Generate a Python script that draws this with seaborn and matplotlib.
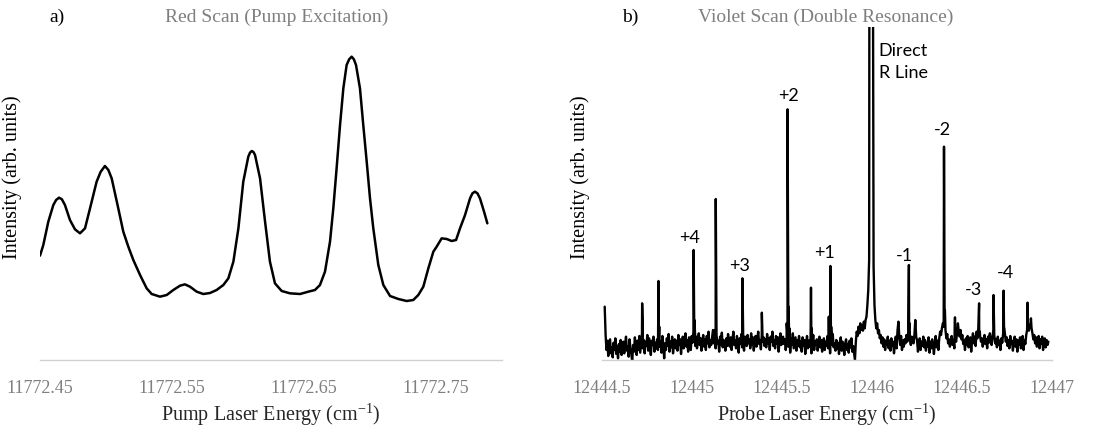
import numpy as np
import matplotlib
matplotlib.use("Agg")
import matplotlib.pyplot as plt
import seaborn as sns

# ---------------- data: panel a (red scan) ----------------
red_energy = [
    11772.4500, 11772.4525, 11772.4563, 11772.4601, 11772.4622, 11772.4644, 11772.4666,
    11772.4689, 11772.4727, 11772.4765, 11772.4803, 11772.4841, 11772.4879, 11772.4929,
    11772.4960, 11772.4992, 11772.5018, 11772.5043, 11772.5093, 11772.5131, 11772.5169,
    11772.5207, 11772.5258, 11772.5308, 11772.5346, 11772.5409, 11772.5460, 11772.5510,
    11772.5561, 11772.5598, 11772.5636, 11772.5687, 11772.5737, 11772.5788, 11772.5838,
    11772.5889, 11772.5927, 11772.5965, 11772.6003, 11772.6040, 11772.6078, 11772.6091,
    11772.6104, 11772.6117, 11772.6129, 11772.6167, 11772.6205, 11772.6242, 11772.6280,
    11772.6331, 11772.6394, 11772.6470, 11772.6533, 11772.6583, 11772.6621, 11772.6659,
    11772.6697, 11772.6722, 11772.6747, 11772.6773, 11772.6798, 11772.6823, 11772.6842,
    11772.6861, 11772.6878, 11772.6894, 11772.6924, 11772.6949, 11772.6975, 11772.7000,
    11772.7025, 11772.7063, 11772.7101, 11772.7152, 11772.7215, 11772.7278, 11772.7328,
    11772.7366, 11772.7404, 11772.7442, 11772.7480, 11772.7505, 11772.7543, 11772.7581,
    11772.7619, 11772.7652, 11772.7682, 11772.7720, 11772.7758, 11772.7776, 11772.7795,
    11772.7814, 11772.7833, 11772.7864, 11772.7889,
]
red_intensity = [
    313, 345, 415, 465, 480, 487, 482,
    465, 420, 392, 380, 395, 455, 535,
    565, 582, 570, 545, 455, 385, 340,
    300, 255, 215, 198, 190, 195, 210,
    223, 227, 220, 205, 198, 201, 210,
    225, 245, 295, 395, 535, 610, 622,
    627, 624, 615, 545, 415, 295, 230,
    207, 200, 198, 205, 210, 225, 265,
    355, 455, 575, 705, 815, 885, 902,
    910, 902, 885, 815, 705, 595, 485,
    395, 285, 225, 192, 183, 177, 180,
    195, 220, 275, 325, 340, 365, 363,
    357, 360, 395, 435, 485, 500, 505,
    500, 485, 445, 410,
]

# ---------------- data: panel b (violet scan) ----------------
violet_baseline_start = 12444.52
violet_baseline_end = 12446.98
violet_baseline = [
    75, 30, 58, 12, 45, 62, 20, 38, 8, 52, 30, 65, 18, 42, 5, 48, 25, 60, 15, 40,
    55, 20, 48, 70, 28, 40, 10, 62, 35, 18, -5, 45, 25, 68, 38, 15, 58, 30, 72, 22,
    50, 80, 35, 60, 20, 55, 42, 75, 28, 65, 38, 15, 58, 45, 70, 25, 52, 35, 62, 30,
    68, 40, 55, 22, 72, 45, 5, 50, 30, 65, 42, 78, 25, 55, 38, 70, 20, 48, 62, 35,
    58, 28, 75, 45, 62, 18, 50, 70, 35, 55, 80, 40, 60, 25, 68, 48, 30, 72, 52, 85,
    60, 42, 70, 35, 58, 80, 45, 65, 28, 55, 75, 40, 62, 30, 72, 50, 85, 38, 60, 45,
    68, 90, 50, 62, 35, 75, 48, 58, 25, 70, 45, 82, 38, 60, 52, 28, 65, 42, 78, 55,
    40, 68, 30, 62, 85, 45, 58, 35, 72, 50, 22, 65, 48, 78, 38, 60, 28, 70, 55, 42,
    75, 50, 62, 35, 80, 45, 68, 28, 58, 72, 40, 65, 85, 48, 60, 32, 75, 55, 68, 42,
    62, 38, 78, 50, 65, 30, 70, 55, 85, 42, 60, 35, 72, 48, 68, 25, 58, 80, 45, 65,
    70, 48, 62, 30, 55, 75, 40, 58, 22, 65, 45, 80, 35, 52, 68, 28, 60, 42, 72, 38,
    55, 25, 68, 42, 60, 18, 50, 72, 35, 58, 40, 65, 20, 48, 75, 30, 55, 45, 62, 28,
    52, 70, 38, 60, 25, 48, 65, 30, 55, 42, 72, 35, 58, 20, 62, 45, 78, 38, 50, 28,
    60, 35, 52, 18, 45, 68, 28, 55, 40, 15, 50, 62, 30, 48, 22, 58, 38, 65, 25, 42,
    20, 0, 55, 85, 72, 100, 80, 110, 90, 105, 88, 115, 95, 120, 130, 165, 210, 300, 1500, 1500,
    1500, 1500, 280, 165, 120, 95, 110, 80, 90, 65, 75, 50, 68, 40, 62, 30, 55, 45, 70, 35,
    58, 28, 65, 42, 55, 20, 48, 70, 35, 90, 115, 70, 45, 72, 30, 58, 40, 62, 50, 75,
    55, 80, 95, 60, 45, 70, 62, 50, 75, 120, 70, 58, 25, 48, 65, 30, 55, 42, 70, 38,
    60, 28, 52, 40, 68, 22, 55, 35, 62, 45, 18, 50, 72, 38, 58, 30, 65, 85, 75, 95,
    110, 100, 150, 90, 65, 78, 50, 62, 40, 58, 72, 45, 60, 35, 68, 55, 80, 110, 85, 70,
    90, 62, 75, 48, 58, 30, 65, 45, 72, 38, 55, 68, 25, 60, 80, 50, 70, 42, 85, 65,
    95, 90, 72, 55, 65, 40, 58, 75, 48, 62, 35, 70, 52, 80, 60, 45, 68, 92, 75, 50,
    62, 38, 70, 45, 58, 30, 65, 52, 80, 95, 78, 55, 68, 42, 60, 35, 72, 48, 58, 28,
    55, 70, 40, 62, 25, 58, 45, 68, 35, 52, 72, 30, 60, 48, 75, 90, 100, 88, 105, 110,
    95, 80, 62, 75, 50, 68, 40, 58, 72, 35, 62, 48, 70, 30, 55, 65, 38, 60, 45, 55,
]
violet_peak_energy = [
    12444.515,
    12444.723, 12444.727,
    12444.814, 12444.818,
    12445.009, 12445.013, 12445.017,
    12445.128, 12445.132, 12445.136,
    12445.280, 12445.284,
    12445.388,
    12445.526, 12445.531, 12445.536, 12445.541,
    12445.661, 12445.665,
    12445.760, 12445.764, 12445.769, 12445.773,
    12445.986, 12446.004,
    12446.205, 12446.209,
    12446.395, 12446.400, 12446.405, 12446.410,
    12446.461,
    12446.595, 12446.599,
    12446.675, 12446.679,
    12446.731, 12446.735,
    12446.864,
    12446.883,
]
violet_peak_intensity = [
    160,
    170, 90,
    237, 100,
    330, 120, 80,
    90, 483, 130,
    245, 90,
    142,
    110, 752, 160, 95,
    217, 95,
    130, 120, 282, 100,
    1500, 1500,
    285, 110,
    110, 640, 150, 80,
    128,
    170, 85,
    195, 90,
    208, 95,
    172,
    125,
]

peak_labels = ["+4", "+3", "+2", "+1", "-1", "-2", "-3", "-4"]
peak_label_energy = [12445.009, 12445.280, 12445.531, 12445.769,
                     12446.205, 12446.400, 12446.595, 12446.731]
peak_label_intensity = [330, 245, 752, 282, 285, 640, 170, 208]
peak_label_offsets_px = [(-4, 12), (-3, 12), (1, 13), (-6, 13),
                         (-4, 9), (-2, 16), (-6, 13), (2, 17)]
direct_line_energy = 12445.995

red_ticks = [11772.45, 11772.55, 11772.65, 11772.75]
red_tick_labels = ["11772.45", "11772.55", "11772.65", "11772.75"]
violet_ticks = [12444.5, 12445.0, 12445.5, 12446.0, 12446.5, 12447.0]
violet_tick_labels = ["12444.5", "12445", "12445.5", "12446", "12446.5", "12447"]

# ---------------- style ----------------
sns.set_style("white")
plt.rcParams["font.family"] = ["Liberation Serif", "DejaVu Serif"]
plt.rcParams["mathtext.fontset"] = "custom"
plt.rcParams["mathtext.rm"] = "Liberation Serif"
plt.rcParams["mathtext.it"] = "Liberation Serif:italic"

W, H = 1115, 427
fig = plt.figure(figsize=(W / 100, H / 100), dpi=100)

GRAY_AXIS = "#d0d0d0"
GRAY_TEXT = "#7f7f7f"
TICK_FS = 13
LABEL_FS = 14.5
TITLE_FS = 14
ANN_FONT = ["Lato", "DejaVu Sans"]


def frac_box(x0, x1, ytop, ybot):
    return [x0 / W, 1 - ybot / H, (x1 - x0) / W, (ybot - ytop) / H]


ax_a = fig.add_axes(frac_box(40, 502, 28, 361))
ax_b = fig.add_axes(frac_box(602, 1052, 28, 361))

# panel a
sns.lineplot(x=red_energy, y=red_intensity, ax=ax_a, color="black",
             linewidth=1.8, estimator=None, sort=False)
ax_a.set_xlim(11772.45, 11772.80)
ax_a.set_ylim(0, 999)

# panel b
base_x = np.linspace(violet_baseline_start, violet_baseline_end, len(violet_baseline))
vx = np.concatenate([base_x, np.array(violet_peak_energy)])
vy = np.concatenate([np.array(violet_baseline, float), np.array(violet_peak_intensity, float)])
order = np.argsort(vx, kind="stable")
sns.lineplot(x=vx[order], y=vy[order], ax=ax_b, color="black",
             linewidth=1.7, estimator=None, sort=False)
ax_b.set_xlim(12444.5, 12447.0)
ax_b.set_ylim(0, 999)

for ax, ticks, labels in ((ax_a, red_ticks, red_tick_labels),
                          (ax_b, violet_ticks, violet_tick_labels)):
    for s in ("left", "right", "top"):
        ax.spines[s].set_visible(False)
    ax.spines["bottom"].set_color(GRAY_AXIS)
    ax.spines["bottom"].set_linewidth(1.0)
    ax.set_yticks([])
    ax.set_xticks(ticks)
    ax.set_xticklabels(labels)
    ax.tick_params(axis="x", direction="in", length=5, width=1.0, color=GRAY_AXIS,
                   labelcolor=GRAY_TEXT, labelsize=TICK_FS, pad=14)
    ax.set_ylabel("Intensity (arb. units)", fontsize=LABEL_FS, color="black")
    ax.patch.set_alpha(0)

ax_a.yaxis.set_label_coords(-0.039, 0.553)
ax_b.yaxis.set_label_coords(-0.027, 0.553)

ax_a.set_xlabel(r"Pump Laser Energy (cm$^{\mathrm{-1}}$)", fontsize=LABEL_FS, labelpad=3)
ax_b.set_xlabel(r"Probe Laser Energy (cm$^{\mathrm{-1}}$)", fontsize=LABEL_FS, labelpad=3)

# titles
fig.text(57 / W, 1 - 17 / H, "a)", fontsize=TITLE_FS, color="black", ha="center", va="center")
fig.text(277 / W, 1 - 17 / H, "Red Scan (Pump Excitation)", fontsize=TITLE_FS,
         color=GRAY_TEXT, ha="center", va="center")
fig.text(630 / W, 1 - 17 / H, "b)", fontsize=TITLE_FS, color="black", ha="center", va="center")
fig.text(826 / W, 1 - 17 / H, "Violet Scan (Double Resonance)", fontsize=TITLE_FS,
         color=GRAY_TEXT, ha="center", va="center")

# peak labels
for lab, ex, iy, (dx, dy) in zip(peak_labels, peak_label_energy, peak_label_intensity,
                                 peak_label_offsets_px):
    ax_b.annotate(lab, xy=(ex, iy), xytext=(dx * 0.72, dy * 0.72 + 1),
                  textcoords="offset points", ha="center", va="center",
                  fontsize=13, family=ANN_FONT, color="black")

ax_b.annotate("Direct\nR Line", xy=(direct_line_energy, 1.0),
              xycoords=("data", "axes fraction"), xytext=(5.5, -11),
              textcoords="offset points", ha="left", va="top", linespacing=1.45,
              fontsize=13, family=ANN_FONT, color="black")

fig.savefig("out.png", dpi=100)
